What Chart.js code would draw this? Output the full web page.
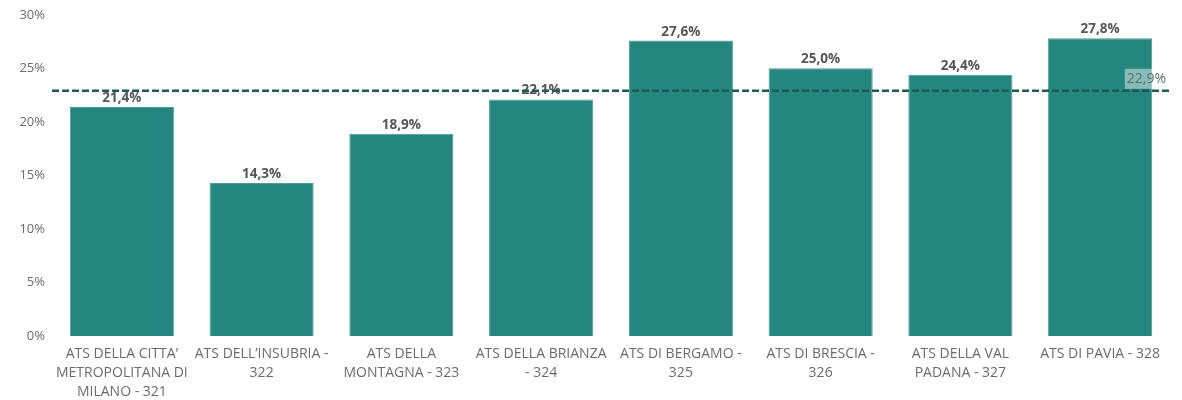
<!DOCTYPE html>
<html>
<head>
<meta charset="utf-8">
<script src="https://cdn.jsdelivr.net/npm/chart.js@4/dist/chart.umd.min.js"></script>
<style>
    html, body { margin: 0; padding: 0; background: #fff; }
    #wrap { width: 1182px; height: 400px; position: relative; }
</style>
</head>
<body>
<div id="wrap"><canvas id="chart"></canvas></div>
<script>
const categories = [
    ['ATS DELLA CITTA\u2019', 'METROPOLITANA DI', 'MILANO - 321'],
    ['ATS DELL\u2019INSUBRIA -', '322'],
    ['ATS DELLA', 'MONTAGNA - 323'],
    ['ATS DELLA BRIANZA', '- 324'],
    ['ATS DI BERGAMO -', '325'],
    ['ATS DI BRESCIA -', '326'],
    ['ATS DELLA VAL', 'PADANA - 327'],
    ['ATS DI PAVIA - 328']
];
const shareValues = [21.4, 14.3, 18.9, 22.1, 27.6, 25.0, 24.4, 27.8];
const averageValue = 22.9;
const yTicks = [0, 5, 10, 15, 20, 25, 30];

function formatPct(v, digits) {
    return v.toFixed(digits).replace('.', ',') + '%';
}

const valueLabels = {
    id: 'valueLabels',
    afterDatasetsDraw(chart) {
        const ctx = chart.ctx;
        const meta = chart.getDatasetMeta(0);
        ctx.save();
        ctx.font = 'bold 13.5px "Open Sans", sans-serif';
        ctx.fillStyle = '#555555';
        ctx.textAlign = 'center';
        ctx.textBaseline = 'bottom';
        meta.data.forEach((bar, i) => {
            ctx.fillText(formatPct(shareValues[i], 1), bar.x, bar.y - 2);
        });
        ctx.restore();
    }
};

const averageLine = {
    id: 'averageLine',
    afterDraw(chart) {
        const ctx = chart.ctx;
        const area = chart.chartArea;
        const y = chart.scales.y.getPixelForValue(averageValue);
        ctx.save();
        ctx.strokeStyle = '#1d5a54';
        ctx.lineWidth = 2.5;
        ctx.setLineDash([7, 3]);
        ctx.beginPath();
        ctx.moveTo(area.left, y);
        ctx.lineTo(area.right, y);
        ctx.stroke();
        ctx.setLineDash([]);

        const text = formatPct(averageValue, 1);
        ctx.font = '14px "Open Sans", sans-serif';
        const w = ctx.measureText(text).width;
        const x = area.right - 4 - w;
        ctx.fillStyle = 'rgba(255,255,255,0.45)';
        ctx.fillRect(x - 2, y - 22, w + 4, 20);
        ctx.fillStyle = '#5d6e6c';
        ctx.textAlign = 'left';
        ctx.textBaseline = 'middle';
        ctx.fillText(text, x, y - 12);
        ctx.restore();
    }
};

const chartCtx = document.getElementById('chart').getContext('2d');
new Chart(chartCtx, {
    type: 'bar',
    data: {
        labels: categories,
        datasets: [{
            data: shareValues,
            backgroundColor: '#25857f',
            borderColor: '#4a9d97',
            borderWidth: 1,
            categoryPercentage: 0.745,
            barPercentage: 1
        }]
    },
    options: {
        responsive: true,
        maintainAspectRatio: false,
        animation: false,
        layout: { padding: { top: 14, right: 12, left: 0, bottom: 0 } },
        plugins: {
            legend: { display: false },
            tooltip: { enabled: false }
        },
        scales: {
            x: {
                grid: { display: false, drawTicks: false },
                border: { display: false },
                ticks: {
                    color: '#6b6b6b',
                    font: { family: '"Open Sans", sans-serif', size: 14, lineHeight: '19px' },
                    padding: 9,
                    maxRotation: 0,
                    autoSkip: false
                },
                afterFit(scale) { scale.height = 64; }
            },
            y: {
                min: 0,
                max: 30,
                grid: { display: false, drawTicks: false },
                border: { display: false },
                afterBuildTicks(scale) {
                    scale.ticks = yTicks.map(v => ({ value: v }));
                },
                ticks: {
                    color: '#6b6b6b',
                    font: { family: '"Open Sans", sans-serif', size: 13 },
                    padding: 7,
                    callback: v => v + '%'
                },
                afterFit(scale) { scale.width = 52; }
            }
        }
    },
    plugins: [valueLabels, averageLine]
});
</script>
</body>
</html>
